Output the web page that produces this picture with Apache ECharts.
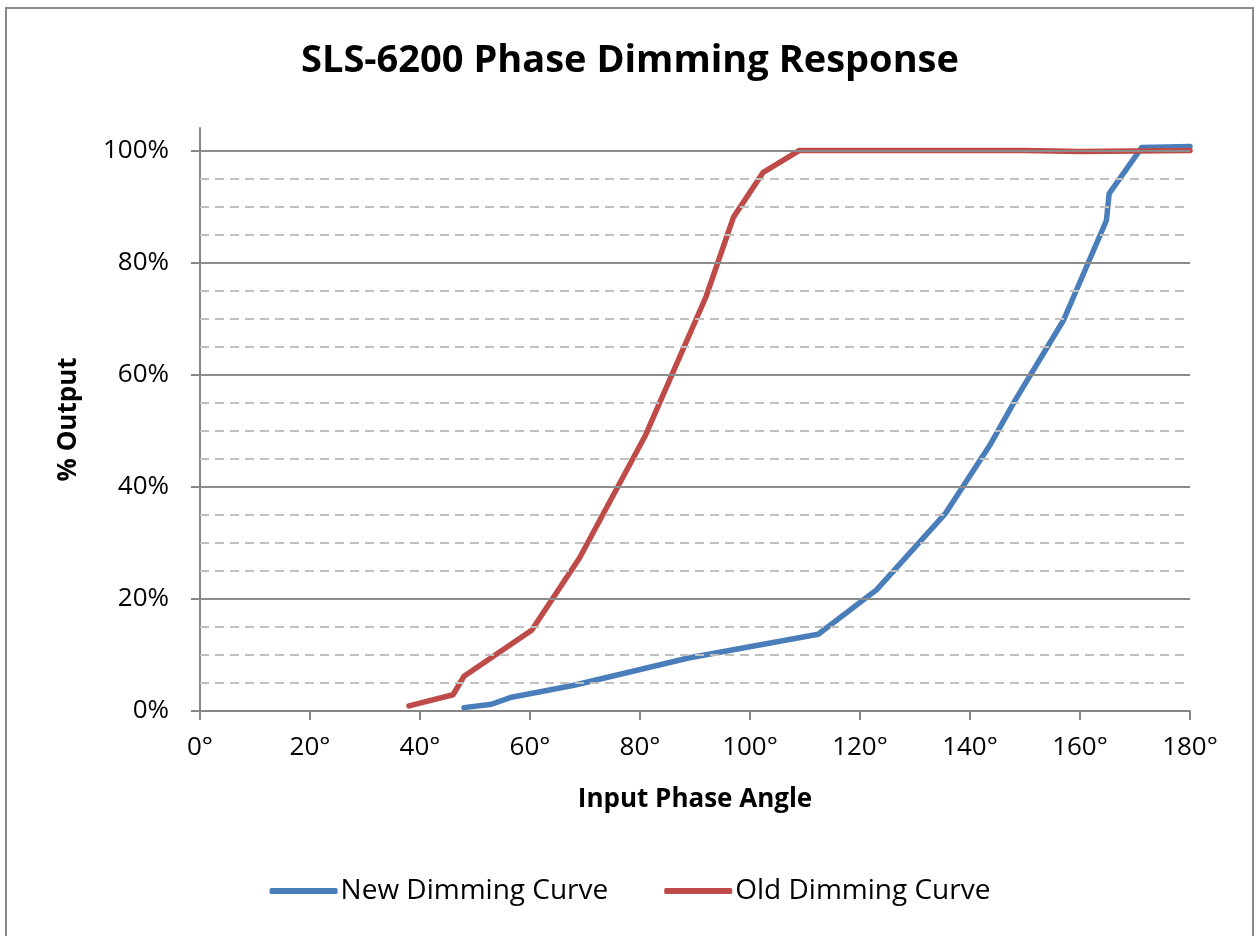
<!DOCTYPE html>
<html>
<head>
<meta charset="utf-8">
<script src="https://cdn.jsdelivr.net/npm/echarts@6/dist/echarts.min.js"></script>
<style>
  html, body { margin: 0; padding: 0; background: #fff; }
  #frame {
    position: absolute; left: 5px; top: 7px; width: 1249px; height: 940px;
    border: 2px solid #8a8a8a; box-sizing: border-box;
  }
  #chart { position: absolute; left: 0; top: 0; width: 1260px; height: 936px; }
</style>
</head>
<body>
<div id="frame"></div>
<div id="chart"></div>
<script>
// phase angle (deg) / output (%)
const newAngles = [48, 53, 56.4, 68, 89, 112.4, 123, 135.5, 143.6, 148.2, 157, 164.8, 165.3, 171.2, 180]
const newOutput = [0.6, 1.2, 2.4, 4.6, 9.5, 13.7, 21.6, 35.2, 47.4, 55.4, 69.7, 87.5, 92.3, 100.5, 100.7]
const oldAngles = [38, 46, 48, 60.3, 69, 81, 92, 97, 102.4, 109, 150, 160, 180]
const oldOutput = [0.9, 2.9, 6.2, 14.4, 27.3, 49.2, 73.9, 88.1, 96.1, 100, 100, 99.8, 100]

const xTicks = [0, 20, 40, 60, 80, 100, 120, 140, 160, 180]
const yTicks = [0, 20, 40, 60, 80, 100]
const yMinor = [5, 10, 15, 25, 30, 35, 45, 50, 55, 65, 70, 75, 85, 90, 95]

const toPairs = (xs, ys) => xs.map((x, i) => [x, ys[i]])

const gridLines = [
  ...yMinor.map(v => ({ yAxis: v, lineStyle: { color: '#bfbfbf', width: 2, type: [9, 6] } })),
  ...yTicks.filter(v => v > 0).map(v => ({ yAxis: v, lineStyle: { color: '#8c8c8c', width: 2, type: 'solid' } }))
]

const chart = echarts.init(document.getElementById('chart'))

const option = {
  animation: false,
  title: {
    text: 'SLS-6200 Phase Dimming Response',
    left: 'center',
    top: 37,
    textStyle: { fontFamily: 'Open Sans', fontWeight: 'bold', fontSize: 38, color: '#000' }
  },
  legend: {
    left: 'center',
    top: 872,
    icon: 'roundRect',
    itemWidth: 68,
    itemHeight: 6,
    itemGap: 56,
    textStyle: { fontFamily: 'Open Sans', fontSize: 28, color: '#000', padding: [0, 0, 0, -2] },
    data: ['New Dimming Curve', 'Old Dimming Curve']
  },
  grid: { left: 200, right: 70, top: 128, bottom: 225 },
  xAxis: {
    type: 'value',
    min: 0,
    max: 180,
    interval: 20,
    name: 'Input Phase Angle',
    nameLocation: 'middle',
    nameGap: 76,
    nameTextStyle: { fontFamily: 'Open Sans', fontWeight: 'bold', fontSize: 26, color: '#000' },
    axisLine: { lineStyle: { color: '#868686', width: 2 } },
    axisTick: { show: true, length: 9, lineStyle: { color: '#868686', width: 2 }, customValues: xTicks },
    axisLabel: {
      margin: 24,
      fontFamily: 'Open Sans', fontSize: 26, color: '#000',
      customValues: xTicks,
      formatter: v => v + '°'
    },
    splitLine: { show: false }
  },
  yAxis: {
    type: 'value',
    min: 0,
    max: 104,
    name: '% Output',
    nameLocation: 'middle',
    nameGap: 118,
    nameRotate: 90,
    nameTextStyle: { fontFamily: 'Open Sans', fontWeight: 'bold', fontSize: 26, color: '#000' },
    axisLine: { show: true, lineStyle: { color: '#868686', width: 2 } },
    axisTick: { show: true, length: 9, lineStyle: { color: '#868686', width: 2 }, customValues: yTicks },
    axisLabel: {
      margin: 31,
      fontFamily: 'Open Sans', fontSize: 26, color: '#000',
      customValues: yTicks,
      formatter: v => v + '%'
    },
    splitLine: { show: false }
  },
  series: [
    {
      name: 'grid',
      type: 'line',
      data: [],
      z: 1,
      silent: true,
      markLine: {
        silent: true,
        symbol: 'none',
        label: { show: false },
        animation: false,
        data: gridLines
      }
    },
    {
      name: 'New Dimming Curve',
      type: 'line',
      z: 3,
      data: toPairs(newAngles, newOutput),
      showSymbol: false,
      color: '#4a7ebb',
      lineStyle: { width: 5.5, color: '#4a7ebb', cap: 'round', join: 'round' }
    },
    {
      name: 'Old Dimming Curve',
      type: 'line',
      z: 4,
      data: toPairs(oldAngles, oldOutput),
      showSymbol: false,
      color: '#be4b48',
      lineStyle: { width: 5.5, color: '#be4b48', cap: 'round', join: 'round' }
    }
  ]
}

chart.setOption(option)
</script>
</body>
</html>
